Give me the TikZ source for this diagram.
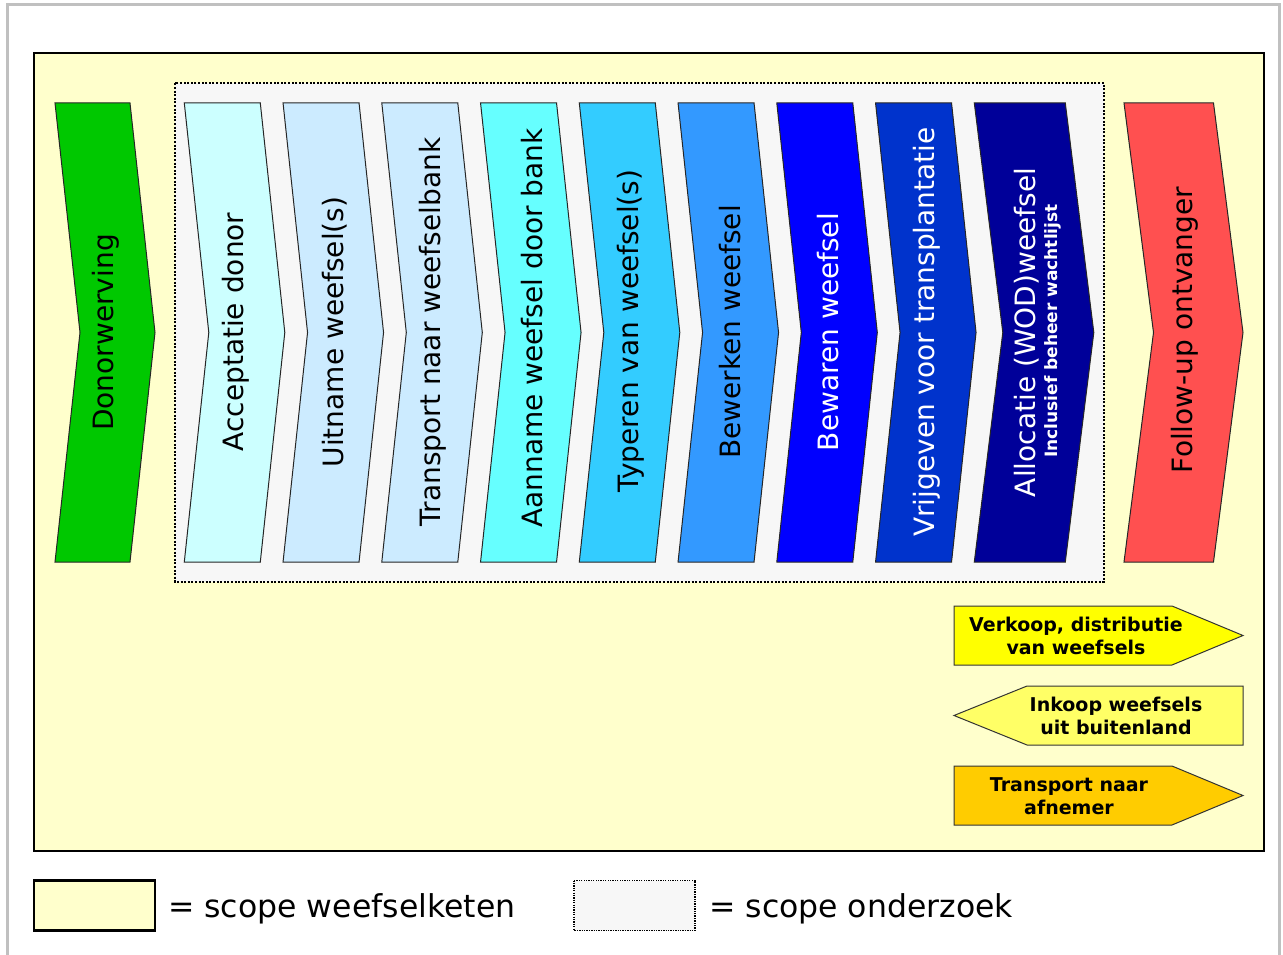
\documentclass[tikz,border=0pt]{standalone}
\usepackage{fontspec}
\setmainfont{DejaVu Sans}
\definecolor{bgyellow}{HTML}{FFFFCC}
\definecolor{scopegray}{HTML}{F7F7F7}
\definecolor{framegray}{HTML}{C0C0C0}
\definecolor{cGreen}{HTML}{00C800}
\definecolor{cAcc}{HTML}{CCFFFF}
\definecolor{cUit}{HTML}{CCEBFF}
\definecolor{cTra}{HTML}{CCEBFF}
\definecolor{cAan}{HTML}{66FFFF}
\definecolor{cTyp}{HTML}{33CCFF}
\definecolor{cBew}{HTML}{3399FF}
\definecolor{cBwa}{HTML}{0000FF}
\definecolor{cVri}{HTML}{0033CC}
\definecolor{cAll}{HTML}{000099}
\definecolor{cFol}{HTML}{FF5050}
\definecolor{cVer}{HTML}{FFFF00}
\definecolor{cInk}{HTML}{FFFF66}
\definecolor{cTrn}{HTML}{FFCC00}
\newcommand\chevronshape[4]{%
  \path[chevline, fill=#4] (#1,103) -- ++(#2,0) -- ++(#3,229.5) -- ++(-#3,229.5) -- ++(-#2,0) -- ++(#3,-229.5) -- cycle;}
\begin{document}
\begin{tikzpicture}[x=1pt,y=-1pt,
  chevline/.style={draw=black!85, line width=1pt},
  lbl/.style={rotate=90, font=\fontsize{28}{32}\selectfont, inner sep=0pt},
  sublbl/.style={rotate=90, font=\bfseries\fontsize{17}{19}\selectfont, inner sep=0pt},
  arrline/.style={draw=black!80, line width=1pt},
  arrtxt/.style={font=\bfseries\fontsize{19}{22.5}\selectfont, align=center, inner sep=0pt},
  legtxt/.style={font=\fontsize{31.5}{36}\selectfont, inner sep=0pt, anchor=west}]
\useasboundingbox (0,0) rectangle (1283,955);
\fill[white] (0,0) rectangle (1283,955);
% outer frame
\draw[framegray, line width=3pt] (7.5,955) -- (7.5,4.5) -- (1279.5,4.5) -- (1279.5,955);
% scope weefselketen
\draw[fill=bgyellow, line width=2.5pt] (34,53) rectangle (1264,851);
% scope onderzoek
\draw[fill=scopegray, line width=2pt, dash pattern=on 2pt off 1.6pt] (174.5,83.5) rectangle (1104,581.5);
% chevrons
\chevronshape{55}{75}{25}{cGreen}
\chevronshape{184.3}{76}{24.5}{cAcc}
\chevronshape{283.05}{76}{24.5}{cUit}
\chevronshape{381.8}{76}{24.5}{cTra}
\chevronshape{480.55}{76}{24.5}{cAan}
\chevronshape{579.3}{76}{24.5}{cTyp}
\chevronshape{678.05}{76}{24.5}{cBew}
\chevronshape{776.8}{76}{24.5}{cBwa}
\chevronshape{875.55}{76}{24.5}{cVri}
\chevronshape{974.3}{91}{28.5}{cAll}
\chevronshape{1124}{89.5}{29.5}{cFol}
\node[lbl] (donor) at (105.5,332.5) {Donorwerving};
\node[lbl] (acc) at (236,332) {Acceptatie donor};
\node[lbl] (uit) at (334.5,332) {Uitname weefsel(s)};
\node[lbl] (tra) at (433,332) {Transport naar weefselbank};
\node[lbl] (aan) at (532,328) {Aanname weefsel door bank};
\node[lbl] (typ) at (631,331) {Typeren van weefsel(s)};
\node[lbl] (bew) at (730,332) {Bewerken weefsel};
\node[lbl, white] (bwa) at (828.5,332) {Bewaren weefsel};
\node[lbl, white] (vri) at (927,332) {Vrijgeven voor transplantatie};
\node[lbl, white] (all) at (1027,332.5) {Allocatie (WOD)weefsel};
\node[sublbl, white] (allsub) at (1052.5,331) {Inclusief beheer wachtlijst};
\node[lbl] (fol) at (1185,330) {Follow-up ontvanger};
% side arrows
\path[arrline, fill=cVer] (954,606) -- (1172,606) -- (1243,635.5) -- (1172,665) -- (954,665) -- cycle;
\node[arrtxt] (ver) at (1076,636) {Verkoop, distributie\\van weefsels};
\path[arrline, fill=cInk] (954,715.5) -- (1027,686) -- (1243,686) -- (1243,745) -- (1027,745) -- cycle;
\node[arrtxt] (ink) at (1116,716) {Inkoop weefsels\\uit buitenland};
\path[arrline, fill=cTrn] (954,766) -- (1172,766) -- (1243,795.5) -- (1172,825) -- (954,825) -- cycle;
\node[arrtxt] (trn) at (1069,796) {Transport naar\\afnemer};
% legend
\draw[fill=bgyellow, line width=2.5pt] (34,880.5) rectangle (155,930.5);
\node[legtxt] (leg1) at (168,909) {= scope weefselketen};
\draw[fill=scopegray, line width=1.6pt, dash pattern=on 1.3pt off 1.1pt] (574,880.5) rectangle (695,930.5);
\node[legtxt] (leg2) at (709,909) {= scope onderzoek};
\end{tikzpicture}
\end{document}
